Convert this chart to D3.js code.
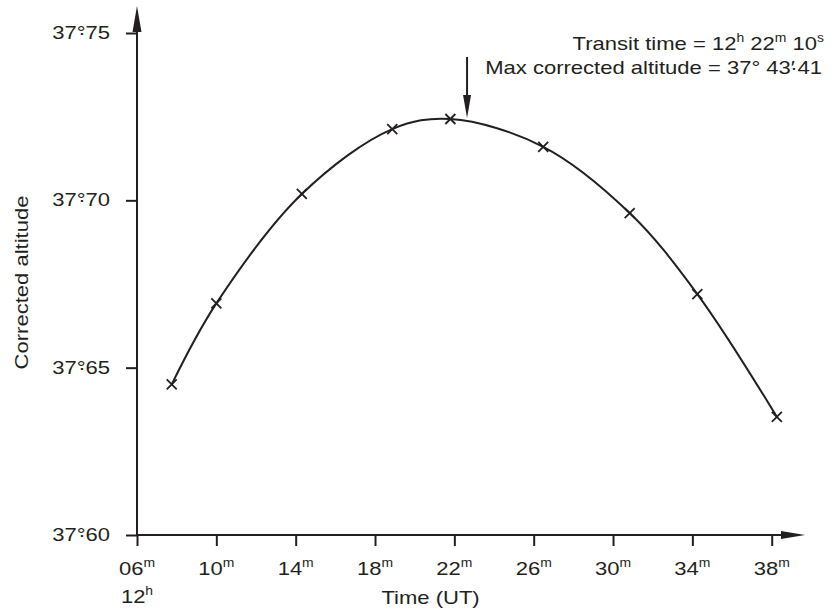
<!DOCTYPE html>
<html><head><meta charset="utf-8">
<script src="https://cdn.jsdelivr.net/npm/d3@7"></script>
<style>
body{margin:0;background:#fff}
svg{display:block}
text{font-family:"Liberation Sans",Arial,Helvetica,sans-serif;fill:#231f20}
</style>
</head><body>
<svg id="chart" width="840" height="615"></svg>
<script>
// ---- data ----
const times = [7.75, 10.0, 14.31, 18.87, 21.80, 26.48, 30.84, 34.25, 38.26];          // minutes after 12h
const altitudes = [37.6450, 37.6692, 37.7019, 37.7213, 37.7243, 37.7160, 37.6962, 37.6720, 37.6353]; // degrees
const xTickValues = [6, 10, 14, 18, 22, 26, 30, 34, 38];
const xTickLabels = ["06", "10", "14", "18", "22", "26", "30", "34", "38"];
const yTickValues = [37.60, 37.65, 37.70, 37.75];
const yTickWhole = ["37", "37", "37", "37"];
const yTickDecimals = ["60", "65", "70", "75"];
const transitArrowTime = 22.64;
const hourLabel = "12";
const xTitle = "Time (UT)";
const yTitle = "Corrected altitude";

// ---- layout ----
const ink = "#231f20";
const svg = d3.select("#chart");
const x = d3.scaleLinear().domain([6, 38]).range([137, 771.7]);
const y = d3.scaleLinear().domain([37.60, 37.75]).range([535, 33]);
const FS = 19, SX = 1.16;

function scaledText(px, py, anchor, size, sx, rot) {
  const g = svg.append("g").attr("transform",
    `translate(${px},${py})` + (rot ? ` rotate(${rot})` : "") + ` scale(${sx},1)`);
  return g.append("text").attr("text-anchor", anchor).attr("font-size", size);
}

// axes ticks
const yAxis = d3.axisLeft(y).tickValues(yTickValues).tickSize(11).tickFormat("");
const xAxis = d3.axisBottom(x).tickValues(xTickValues).tickSize(11).tickFormat("");
const gy = svg.append("g").attr("transform", `translate(${x(6)},0)`).call(yAxis);
const gx = svg.append("g").attr("transform", `translate(0,${y(37.60)})`).call(xAxis);
[gy, gx].forEach(g => {
  g.select(".domain").remove();
  g.selectAll(".tick line").attr("stroke", ink).attr("stroke-width", 2);
});

// axis lines with arrowheads
const x0 = x(6), y0 = y(37.60);
svg.append("line").attr("x1", x0).attr("y1", y0).attr("x2", x0).attr("y2", 20)
  .attr("stroke", ink).attr("stroke-width", 2);
svg.append("path").attr("d", `M${x0},6 L${x0 - 4.5},32 L${x0 + 4.5},32 Z`).attr("fill", ink);
svg.append("line").attr("x1", x0).attr("y1", y0).attr("x2", 790).attr("y2", y0)
  .attr("stroke", ink).attr("stroke-width", 2);
svg.append("path").attr("d", `M805,${y0} L781,${y0 - 4} L781,${y0 + 4} Z`).attr("fill", ink);

// y tick labels
yTickValues.forEach((v, i) => {
  const t = scaledText(110, y(v) + 6, "end", FS, SX);
  t.append("tspan").text(yTickWhole[i]);
  t.append("tspan").text("°");
  t.append("tspan").attr("dx", "-0.34em").text("·");
  t.append("tspan").text(yTickDecimals[i]);
});

// x tick labels
xTickValues.forEach((v, i) => {
  const t = scaledText(x(v), y0 + 40, "middle", FS, SX);
  t.append("tspan").text(xTickLabels[i]);
  t.append("tspan").attr("font-size", 12).attr("dy", -8).text("m");
});
{
  const t = scaledText(x(6), y0 + 68, "middle", FS, SX);
  t.append("tspan").text(hourLabel);
  t.append("tspan").attr("font-size", 12).attr("dy", -8).text("h");
}
scaledText(x(20.8), y0 + 69, "middle", FS, SX).text(xTitle);
scaledText(27.5, 282.5, "middle", FS, SX, -90).text(yTitle);

// curve
const pts = times.map((t, i) => [t, altitudes[i]]);
svg.append("path").datum(pts)
  .attr("d", d3.line().x(d => x(d[0])).y(d => y(d[1])).curve(d3.curveCatmullRom.alpha(0.5)))
  .attr("fill", "none").attr("stroke", ink).attr("stroke-width", 2);

// markers
const s = 5;
svg.append("g").selectAll("path").data(pts).join("path")
  .attr("d", d => {
    const px = x(d[0]), py = y(d[1]);
    return `M${px - s},${py - s}L${px + s},${py + s}M${px - s},${py + s}L${px + s},${py - s}`;
  })
  .attr("stroke", ink).attr("stroke-width", 1.8).attr("fill", "none");

// transit arrow
const ax = x(transitArrowTime);
svg.append("line").attr("x1", ax).attr("y1", 57).attr("x2", ax).attr("y2", 100)
  .attr("stroke", ink).attr("stroke-width", 2);
svg.append("path").attr("d", `M${ax},118 L${ax - 4},95 L${ax + 4},95 Z`).attr("fill", ink);

// annotation
{
  const t = scaledText(824, 50, "end", FS, SX);
  t.append("tspan").text("Transit time = 12");
  t.append("tspan").attr("font-size", 12).attr("dy", -8).text("h");
  t.append("tspan").attr("dy", 8).text(" 22");
  t.append("tspan").attr("font-size", 12).attr("dy", -8).text("m");
  t.append("tspan").attr("dy", 8).text(" 10");
  t.append("tspan").attr("font-size", 12).attr("dy", -8).text("s");
  const t2 = scaledText(822, 74, "end", FS, SX);
  t2.append("tspan").text("Max corrected altitude = 37° 43");
  t2.append("tspan").text("′");
  t2.append("tspan").attr("dx", "-0.22em").text("·");
  t2.append("tspan").text("41");
}
</script>
</body></html>
